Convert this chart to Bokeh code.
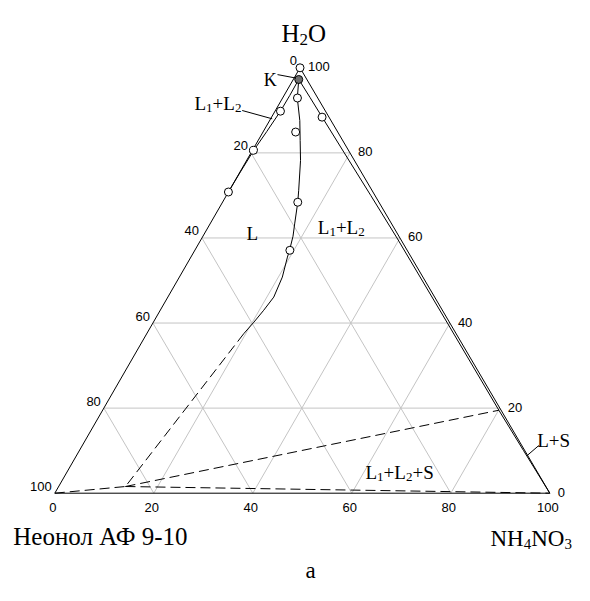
from bokeh.plotting import figure
from bokeh.models import Range1d
from bokeh.core.properties import value
from bokeh.embed import file_html
from bokeh.resources import INLINE

# ---------------- data (mass %, H2O and NH4NO3; Неонол = 100 - H2O - NH4NO3) ----------------
tick_values = [0, 20, 40, 60, 80, 100]
grid_levels = [20, 40, 60, 80]

# experimental points (open circles)
exp_h2o = [100.0, 92.9, 89.8, 88.4, 84.9, 80.6, 70.8, 68.4, 57.1]
exp_nh4 = [0.0, 3.0, 1.1, 10.2, 6.6, 0.2, 0.0, 15.2, 19.2]
# critical point K
k_h2o = [97.25]
k_nh4 = [1.1]

# binodal branch running down from K (solid)
center_h2o = [97.25, 92.85, 87.6, 82.9, 78.2, 71.2, 68.4, 63.3, 60.4, 57.05, 55.5, 50.8, 46.1, 43.0, 40.2, 37.5]
center_nh4 = [1.1, 3.0, 6.1, 8.5, 10.9, 14.0, 15.2, 17.1, 18.2, 19.15, 19.5, 20.8, 21.4, 20.9, 20.3, 19.6]

# binodal branch close to the H2O - Неонол side
left_h2o = [97.25, 93.5, 89.8, 85.0, 80.6, 75.5, 70.8]
left_nh4 = [1.1, 1.15, 1.1, 0.7, 0.25, 0.08, 0.0]

# solubility curve of NH4NO3 (close to the H2O - NH4NO3 side)
right_h2o = [97.25, 93.0, 88.4, 80.0, 70.0, 60.0, 40.0, 19.5, 10.0, 0.0]
right_nh4 = [1.11, 5.5, 10.22, 18.85, 29.15, 39.4, 59.5, 80.05, 89.75, 100.0]

# dashed lines (start H2O, start NH4NO3, end H2O, end NH4NO3)
dash_h2o0 = [37.5, 0.0, 1.57, 1.57]
dash_nh40 = [19.6, 0.0, 13.5, 13.5]
dash_h2o1 = [1.57, 1.57, 19.5, 0.0]
dash_nh41 = [13.5, 13.5, 80.05, 100.0]

SKEW = 0.4954  # horizontal position of the apex relative to the base


def tx(h, n):
    return [ni + SKEW * hi for hi, ni in zip(h, n)]


def ty(h, n):
    return list(h)


p = figure(width=574, height=585, x_range=Range1d(-10.97, 104.99), y_range=Range1d(-21.70, 115.82),
           output_backend="svg", toolbar_location=None, min_border=0,
           x_axis_type=None, y_axis_type=None)
p.grid.visible = False
p.outline_line_color = None

GRID = "#c4c4c4"
# grid lines
for k in grid_levels:
    # constant H2O
    h = [k, k]; n = [0, 100 - k]
    p.line(tx(h, n), ty(h, n), line_color=GRID, line_width=1)
    # constant NH4NO3
    h = [0, 100 - k]; n = [k, k]
    p.line(tx(h, n), ty(h, n), line_color=GRID, line_width=1)
    # constant Неонол
    h = [0, 100 - k]; n = [100 - k, 0]
    p.line(tx(h, n), ty(h, n), line_color=GRID, line_width=1)

# triangle
th = [0, 0, 100, 0]
tn = [0, 100, 0, 0]
p.line(tx(th, tn), ty(th, tn), line_color="black", line_width=1)

# curves
p.line(tx(center_h2o, center_nh4), ty(center_h2o, center_nh4), line_color="black", line_width=1)
p.line(tx(left_h2o, left_nh4), ty(left_h2o, left_nh4), line_color="black", line_width=1)
p.line(tx(right_h2o, right_nh4), ty(right_h2o, right_nh4), line_color="black", line_width=1)

p.segment(x0=tx(dash_h2o0, dash_nh40), y0=ty(dash_h2o0, dash_nh40),
          x1=tx(dash_h2o1, dash_nh41), y1=ty(dash_h2o1, dash_nh41),
          line_color="black", line_width=1, line_dash="10 5")

# points
p.scatter(tx(exp_h2o, exp_nh4), ty(exp_h2o, exp_nh4), size=8, marker="circle",
          fill_color="white", line_color="black", line_width=1)
p.scatter(tx(k_h2o, k_nh4), ty(k_h2o, k_nh4), size=8, marker="circle",
          fill_color="#6e6e6e", line_color="black", line_width=1)

# tick labels
SANS = value("Liberation Sans")
SERIF = value("Liberation Serif")
lh = [100 - v for v in tick_values]
ln = [0 for v in tick_values]
p.text(tx(lh, ln), ty(lh, ln), text=[str(v) for v in tick_values], text_font=SANS, text_font_size="13px",
       text_align="right", text_baseline="middle", x_offset=-3, y_offset=-7, text_color="black")
rh = [v for v in tick_values]
rn = [100 - v for v in tick_values]
p.text(tx(rh, rn), ty(rh, rn), text=[str(v) for v in tick_values], text_font=SANS, text_font_size="13px",
       text_align="left", text_baseline="middle", x_offset=8, y_offset=-1, text_color="black")
bh = [0 for v in tick_values]
bn = [v for v in tick_values]
p.text(tx(bh, bn), ty(bh, bn), text=[str(v) for v in tick_values], text_font=SANS, text_font_size="13px",
       text_align="center", text_baseline="middle", x_offset=-2, y_offset=14, text_color="black")

# rich text labels with subscripts
EM = {"L": 0.611, "K": 0.722, "H": 0.722, "N": 0.722, "O": 0.722, "S": 0.556, "+": 0.564, "a": 0.444}


def width(s, size):
    return sum(EM.get(c, 0.5) for c in s) * size


def rich(x, y, pieces, size, sub_size, drop):
    off = 0.0
    for s, sub in pieces:
        fs = sub_size if sub else size
        p.text([x], [y], text=[s], text_font=SERIF, text_font_size=f"{fs}px", text_align="left",
               text_baseline="alphabetic", x_offset=off, y_offset=(drop if sub else 0), text_color="black")
        off += width(s, fs)


rich(45.8, 107.95, [("H", 0), ("2", 1), ("O", 0)], 25, 17, 6)
rich(88.02, -10.65, [("NH", 0), ("4", 1), ("NO", 0), ("3", 1)], 23, 15, 6)
p.text([-8.38], [-10.18], text=["Неонол АФ 9-10"], text_font=SERIF, text_font_size="25px",
       text_align="left", text_baseline="alphabetic", text_color="black")
p.text([51.66], [-18.2], text=["a"], text_font=SERIF, text_font_size="23px",
       text_align="center", text_baseline="alphabetic", text_color="black")

rich(42.22, 97.18, [("K", 0)], 18, 13, 5)
rich(28.22, 91.61, [("L", 0), ("1", 1), ("+L", 0), ("2", 1)], 19, 13, 5)
rich(38.73, 60.98, [("L", 0)], 19, 13, 5)
rich(53.13, 62.46, [("L", 0), ("1", 1), ("+L", 0), ("2", 1)], 19, 13, 5)
rich(97.45, 12.5, [("L+S", 0)], 19, 13, 5)
rich(62.77, 4.94, [("L", 0), ("1", 1), ("+L", 0), ("2", 1), ("+S", 0)], 19, 13, 5)

# leader lines
p.segment(x0=[44.99, 37.86, 97.78], y0=[98.4, 89.96, 11.21],
          x1=[48.73, 43.92, 95.43], y1=[97.58, 88.01, 8.86], line_color="black", line_width=1)

open("out.html", "w").write(file_html(p, INLINE))
